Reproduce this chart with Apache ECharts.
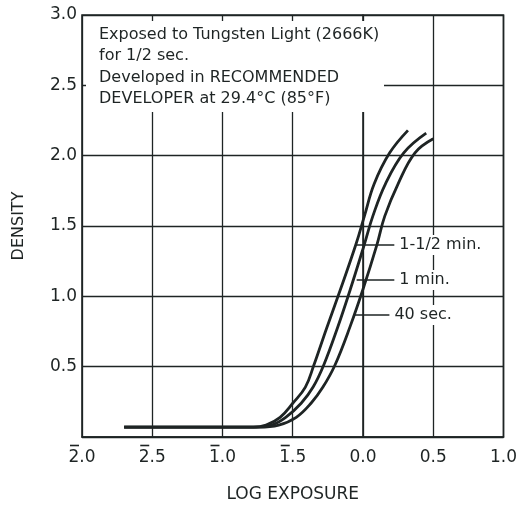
<!DOCTYPE html>
<html>
<head>
<meta charset="utf-8">
<script src="https://cdn.jsdelivr.net/npm/echarts@6/dist/echarts.min.js"></script>
<style>
  html, body { margin: 0; padding: 0; background: #fff; }
  #chart { width: 520px; height: 508px; }
</style>
</head>
<body>
<div id="chart"></div>
<script>
// log exposure (x) / density (y)
var curve90s = [
  [-1.70, 0.07], [-0.78, 0.07], [-0.69, 0.085], [-0.59, 0.14], [-0.50, 0.24],
  [-0.41, 0.355], [-0.35, 0.51], [-0.26, 0.77], [-0.16, 1.05], [-0.05, 1.37],
  [0.01, 1.57], [0.08, 1.80], [0.19, 2.02], [0.32, 2.18]
];
var curve60s = [
  [-1.70, 0.07], [-0.76, 0.07], [-0.65, 0.085], [-0.55, 0.14], [-0.44, 0.24],
  [-0.355, 0.355], [-0.28, 0.51], [-0.18, 0.78], [-0.09, 1.05], [0.01, 1.37],
  [0.07, 1.57], [0.16, 1.80], [0.29, 2.02], [0.45, 2.16]
];
var curve40s = [
  [-1.70, 0.07], [-0.74, 0.07], [-0.60, 0.085], [-0.475, 0.14], [-0.37, 0.24],
  [-0.285, 0.355], [-0.20, 0.51], [-0.09, 0.79], [0.00, 1.05], [0.10, 1.37],
  [0.155, 1.57], [0.25, 1.80], [0.37, 2.02], [0.50, 2.12]
];
var seriesNames = ["1-1/2 min.", "1 min.", "40 sec."];
// leader lines: density level, start (on curve) and end log exposure
var leaderY = [1.365, 1.116, 0.867];
var leaderStart = [-0.05, -0.045, -0.06];
var leaderEnd = [0.223, 0.223, 0.188];

// bar notation: negative characteristic gets a bar over its digit
var xTickLabels = ["2.0", "2.5", "1.0", "1.5", "0.0", "0.5", "1.0"];
var xTickBarred = [true, true, true, true, false, false, false];
var yTickLabels = ["", "0.5", "1.0", "1.5", "2.0", "2.5", "3.0"];

var noteText = [
  "Exposed to Tungsten Light (2666K)",
  "for 1/2 sec.",
  "Developed in RECOMMENDED",
  "DEVELOPER at 29.4\u00b0C (85\u00b0F)"
];

var ink = "#1e2424";
var font = "DejaVu Sans";

var chart = echarts.init(document.getElementById("chart"));

var curves = [curve90s, curve60s, curve40s];
var series = curves.map(function (data, i) {
  return {
    name: seriesNames[i],
    type: "line",
    data: data,
    smooth: 0.4,
    symbol: "none",
    lineStyle: { color: ink, width: 2.8 },
    z: 3,
    markLine: {
      silent: true,
      symbol: "none",
      lineStyle: { color: ink, width: 1.6, type: "solid" },
      label: {
        show: true,
        position: "end",
        distance: 4,
        formatter: seriesNames[i],
        color: ink,
        fontFamily: font,
        fontSize: 16,
        backgroundColor: "#fff",
        padding: [2, 2, 2, 1],
      },
      data: [
        [
          { coord: [leaderStart[i], leaderY[i]] },
          { coord: [leaderEnd[i], leaderY[i]] },
        ],
      ],
    },
  };
});

var option = {
  backgroundColor: "#fff",
  animation: false,
  grid: {
    left: 82,
    right: 13,
    top: 15,
    bottom: 71,
    show: true,
    borderColor: ink,
    borderWidth: 1.6,
  },
  xAxis: {
    type: "value",
    min: -2,
    max: 1,
    interval: 0.5,
    name: "LOG EXPOSURE",
    nameLocation: "middle",
    nameGap: 49,
    nameTextStyle: { color: ink, fontFamily: font, fontSize: 17 },
    axisLine: { show: true, lineStyle: { color: ink, width: 1.6 } },
    axisTick: { show: false },
    axisLabel: {
      color: ink,
      fontFamily: font,
      fontSize: 17,
      margin: 6,
      formatter: function (v) {
        var k = Math.round((v + 2) / 0.5);
        var top = xTickBarred[k] ? "{l|}{bar|}{r|}" : "{l|}{nb|}{r|}";
        return top + "\n{t|" + xTickLabels[k] + "}";
      },
      rich: {
        l: { width: 1.5, height: 1.6, lineHeight: 5 },
        bar: { width: 9, height: 1.6, lineHeight: 5, backgroundColor: ink },
        nb: { width: 9, height: 1.6, lineHeight: 5 },
        r: { width: 16.5, height: 1.6, lineHeight: 5 },
        t: { fontSize: 17, fontFamily: font, color: ink, lineHeight: 20 },
      },
    },
    splitLine: { show: true, lineStyle: { color: ink, width: 1.3 } },
  },
  yAxis: {
    type: "value",
    min: 0,
    max: 3,
    interval: 0.5,
    name: "DENSITY",
    nameLocation: "middle",
    nameGap: 55,
    nameTextStyle: { color: ink, fontFamily: font, fontSize: 16 },
    axisLine: { show: true, lineStyle: { color: ink, width: 1.6 } },
    axisTick: { show: false },
    axisLabel: {
      color: ink,
      fontFamily: font,
      fontSize: 17,
      margin: 5,
      formatter: function (v) {
        return yTickLabels[Math.round(v / 0.5)];
      },
    },
    splitLine: { show: true, lineStyle: { color: ink, width: 1.3 } },
  },
  graphic: [
    {
      type: "rect",
      z: 10,
      shape: { x: 86, y: 21, width: 298, height: 91 },
      style: { fill: "#fff" },
    },
    {
      type: "text",
      z: 11,
      x: 99,
      y: 24,
      style: {
        text: noteText.join("\n"),
        font: "16px " + font,
        fill: ink,
        lineHeight: 21.5,
      },
    },
  ],
  series: series,
};

chart.setOption(option);
</script>
</body>
</html>
